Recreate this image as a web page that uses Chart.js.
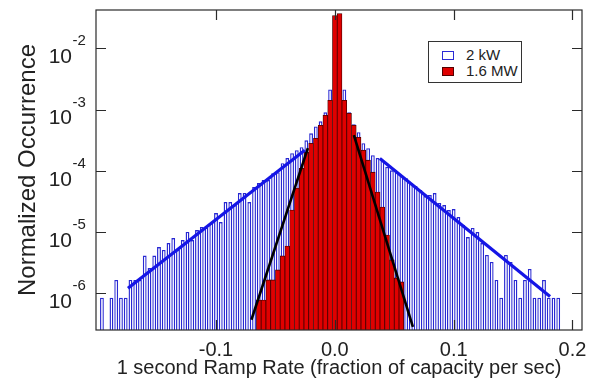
<!DOCTYPE html>
<html><head><meta charset="utf-8">
<script src="https://cdn.jsdelivr.net/npm/chart.js@4.4.1/dist/chart.umd.min.js"></script>
<style>
html,body{margin:0;padding:0;background:#fff;overflow:hidden}
#wrap{position:relative;width:593px;height:383px}
#c{display:block}
#legend{position:absolute;left:428px;top:41px;width:94px;height:42px;border:1.2px solid #333;background:#fff;font:15px "Liberation Sans",Arial,sans-serif;color:#222;box-sizing:border-box}
.row{position:absolute;left:13px;height:12px;line-height:12px;white-space:nowrap}
.sw{display:inline-block;width:12px;height:9px;box-sizing:border-box;vertical-align:middle;margin-right:12px;position:relative;top:-1px}
</style></head><body>
<div id="wrap"><canvas id="c" width="593" height="383"></canvas>
<div id="legend"><div class="row" style="top:7px"><span class="sw" style="border:1.5px solid #2b2bd6;background:#fff"></span>2 kW</div><div class="row" style="top:23px"><span class="sw" style="border:1px solid #500;background:#e00000"></span>1.6 MW</div></div>
</div>
<script>
const FONT = '"Liberation Sans", Arial, sans-serif';

// bin centres of the histograms (fraction of capacity per sec)
const xBins = [-0.196,-0.192,-0.188,-0.184,-0.180,-0.176,-0.172,-0.168,-0.164,-0.160,
  -0.156,-0.152,-0.148,-0.144,-0.140,-0.136,-0.132,-0.128,-0.124,-0.120,
  -0.116,-0.112,-0.108,-0.104,-0.100,-0.096,-0.092,-0.088,-0.084,-0.080,
  -0.076,-0.072,-0.068,-0.064,-0.060,-0.056,-0.052,-0.048,-0.044,-0.040,
  -0.036,-0.032,-0.028,-0.024,-0.020,-0.016,-0.012,-0.008,-0.004,0.000,
  0.004,0.008,0.012,0.016,0.020,0.024,0.028,0.032,0.036,0.040,
  0.044,0.048,0.052,0.056,0.060,0.064,0.068,0.072,0.076,0.080,
  0.084,0.088,0.092,0.096,0.100,0.104,0.108,0.112,0.116,0.120,
  0.124,0.128,0.132,0.136,0.140,0.144,0.148,0.152,0.156,0.160,
  0.164,0.168,0.172,0.176,0.180,0.184,0.188];

// 2 kW normalized occurrence
const kW2 = [8.4e-7,null,8.4e-7,1.64e-6,8.4e-7,8.4e-7,1.64e-6,1.64e-6,1.64e-6,4.1e-6,
  2.58e-6,4.1e-6,5.67e-6,5.07e-6,6.59e-6,7.94e-6,5.07e-6,7.38e-6,1.0e-5,7.38e-6,
  1.07e-5,1.2e-5,1.16e-5,1.4e-5,2.03e-5,1.45e-5,3.08e-5,3.08e-5,2.75e-5,4.31e-5,
  4.31e-5,3.08e-5,5.4e-5,6.28e-5,7.03e-5,7.03e-5,9.14e-5,9.48e-5,1.33e-4,1.61e-4,
  1.94e-4,2.17e-4,2.43e-4,3.15e-4,4.1e-4,5.3e-4,6.44e-4,9.04e-4,2.14e-3,6.0e-3,
  6.0e-3,2.14e-3,9.04e-4,5.75e-4,4.27e-4,2.82e-4,2.34e-4,1.8e-4,1.61e-4,1.49e-4,
  1.16e-4,1.02e-4,9.48e-5,8.48e-5,7.57e-5,6.28e-5,5.61e-5,4.83e-5,3.85e-5,4.0e-5,
  4.31e-5,2.96e-5,2.75e-5,2.28e-5,2.37e-5,1.75e-5,1.3e-5,8.26e-6,1.16e-5,9.96e-6,
  6.59e-6,4.2e-6,3.23e-6,1.64e-6,8.4e-7,4.2e-6,3.23e-6,1.64e-6,8.4e-7,1.64e-6,
  2.48e-6,8.4e-7,8.4e-7,1.64e-6,8.4e-7,8.4e-7,8.4e-7];

// 1.6 MW bins and normalized occurrence
const mwBins = [-0.064,-0.060,-0.056,-0.052,-0.048,-0.044,-0.040,-0.036,-0.032,-0.028,
  -0.024,-0.020,-0.016,-0.012,-0.008,-0.004,0.000,0.004,0.008,0.012,
  0.016,0.020,0.024,0.028,0.032,0.036,0.040,0.044,0.048,0.052,0.056];
const MW16 = [7.7e-7,7.7e-7,1.64e-6,1.64e-6,2.39e-6,4.05e-6,5.89e-6,2.28e-5,5.2e-5,1.1e-4,
  2.01e-4,2.82e-4,3.4e-4,5.55e-4,8.07e-4,1.42e-3,3.45e-2,3.72e-2,1.42e-3,8.71e-4,
  5.55e-4,3.53e-4,2.17e-4,1.49e-4,9.48e-5,4.48e-5,2.55e-5,8.89e-6,3.48e-6,1.77e-6,1.52e-6];

// exponential fits (end points)
const fit2kWLeftX = [-0.1741, -0.0253];
const fit2kWLeftY = [1.20e-6, 2.17e-4];
const fit2kWRightX = [0.0379, 0.1811];
const fit2kWRightY = [1.59e-4, 8.77e-7];
const fitMWLeftX = [-0.0702, -0.0227];
const fitMWLeftY = [3.66e-7, 2.34e-4];
const fitMWRightX = [0.016, 0.0657];
const fitMWRightY = [3.81e-4, 2.81e-7];

const xTickValues = [-0.1, 0.0, 0.1, 0.2];
const yTickValues = [1e-6, 1e-5, 1e-4, 1e-3, 1e-2];

const pts = (xs, ys) => xs.map((x, i) => ({x, y: ys[i]}));

const frameTicks = {
  id: 'frameTicks',
  afterDraw(chart) {
    const {ctx, chartArea: a, scales: {x, y}} = chart;
    ctx.save();
    ctx.strokeStyle = '#2a2a2a';
    ctx.lineWidth = 1.2;
    ctx.strokeRect(a.left, a.top, a.right - a.left, a.bottom - a.top);
    ctx.beginPath();
    x.ticks.forEach(t => {
      const px = Math.round(x.getPixelForValue(t.value)) + 0.5;
      ctx.moveTo(px, a.bottom); ctx.lineTo(px, a.bottom - 10);
      ctx.moveTo(px, a.top); ctx.lineTo(px, a.top + 10);
    });
    y.ticks.forEach(t => {
      const py = Math.round(y.getPixelForValue(t.value)) + 0.5;
      ctx.moveTo(a.left, py); ctx.lineTo(a.left + 10, py);
      ctx.moveTo(a.right, py); ctx.lineTo(a.right - 10, py);
    });
    ctx.stroke();
    // exponents of the decade labels
    ctx.fillStyle = '#222';
    ctx.font = '15px ' + FONT;
    ctx.textAlign = 'left';
    ctx.textBaseline = 'alphabetic';
    y.ticks.forEach(t => {
      const py = y.getPixelForValue(t.value);
      ctx.fillText(String(Math.round(Math.log10(t.value))), 72.5, py - 3);
    });
    ctx.restore();
  }
};

new Chart(document.getElementById('c'), {
  type: 'bar',
  data: {
    datasets: [
      {type: 'line', label: 'fit a', data: pts(fit2kWLeftX, fit2kWLeftY), borderColor: '#1515e6', borderWidth: 3.2, pointRadius: 0, order: 0},
      {type: 'line', label: 'fit b', data: pts(fit2kWRightX, fit2kWRightY), borderColor: '#1515e6', borderWidth: 3.2, pointRadius: 0, order: 0},
      {type: 'line', label: 'fit c', data: pts(fitMWLeftX, fitMWLeftY), borderColor: '#000', borderWidth: 2.6, pointRadius: 0, order: 0},
      {type: 'line', label: 'fit d', data: pts(fitMWRightX, fitMWRightY), borderColor: '#000', borderWidth: 2.6, pointRadius: 0, order: 0},
      {label: '1.6 MW', data: pts(mwBins, MW16), backgroundColor: '#e00000', borderColor: '#4a0000', borderWidth: 0.8,
        barPercentage: 1, categoryPercentage: 1, grouped: false, order: 2},
      {label: '2 kW', data: pts(xBins, kW2), backgroundColor: '#ffffff', borderColor: '#2828d2', borderWidth: 1.4,
        barPercentage: 0.8, categoryPercentage: 1, grouped: false, order: 3}
    ]
  },
  options: {
    responsive: false,
    animation: false,
    devicePixelRatio: 1,
    layout: {padding: {left: 0, top: 10, right: 11, bottom: 0}},
    plugins: {legend: {display: false}, tooltip: {enabled: false}},
    scales: {
      x: {
        type: 'linear', min: -0.201, max: 0.208, offset: false,
        afterBuildTicks: s => { s.ticks = xTickValues.map(v => ({value: v})); },
        afterFit: s => { s.height = 53; s.paddingLeft = 0; s.paddingRight = 0; },
        grid: {display: false, drawTicks: false, offset: false},
        border: {display: false},
        ticks: {callback: v => Number(v).toFixed(1), font: {family: FONT, size: 20}, color: '#222', padding: 8, maxRotation: 0, autoSkip: false},
        title: {display: true, text: '1 second Ramp Rate (fraction of capacity per sec)', font: {family: FONT, size: 20, lineHeight: 1}, color: '#222', padding: {top: 0, bottom: 5}}
      },
      y: {
        type: 'logarithmic', min: 2.49e-7, max: 0.0425,
        afterBuildTicks: s => { s.ticks = yTickValues.map(v => ({value: v})); },
        afterFit: s => { s.width = 96; s.paddingTop = 0; s.paddingBottom = 0; },
        grid: {display: false, drawTicks: false},
        border: {display: false},
        ticks: {callback: () => '10', font: {family: FONT, size: 21}, color: '#222', padding: 24, labelOffset: 9, autoSkip: false},
        title: {display: true, text: 'Normalized Occurrence', font: {family: FONT, size: 24, lineHeight: 1}, color: '#222', padding: {top: 16, bottom: 0}}
      }
    }
  },
  plugins: [frameTicks]
});
</script>
</body></html>
